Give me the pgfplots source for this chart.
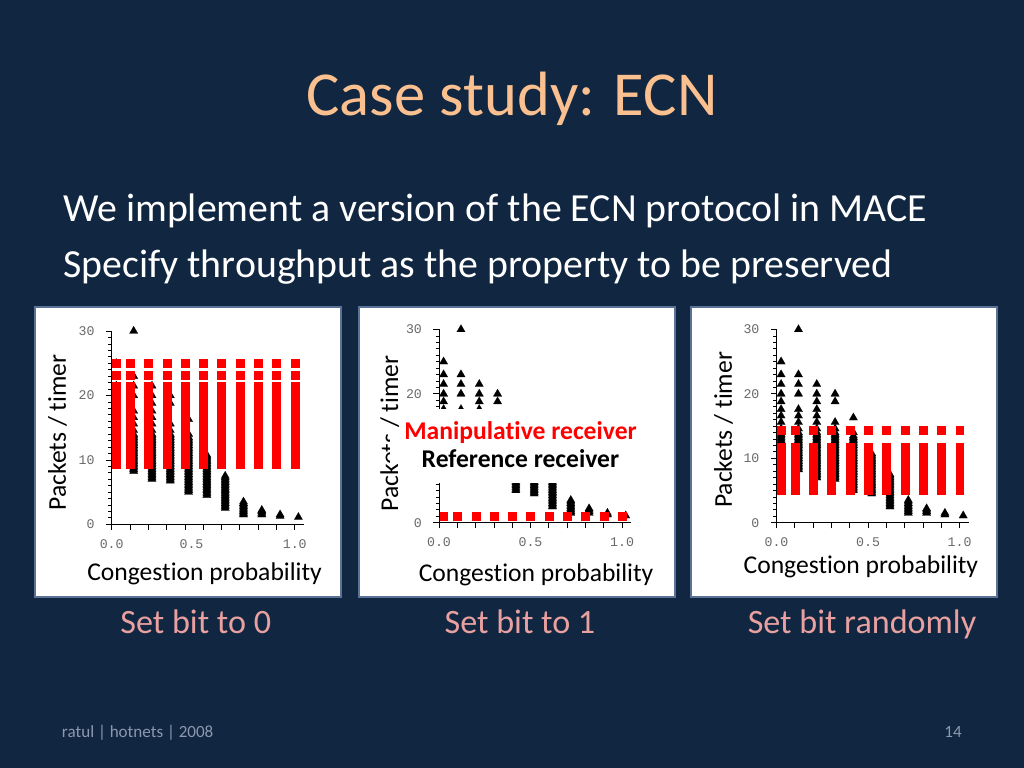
\documentclass[border=0pt]{standalone}
\usepackage{pgfplots}
\pgfplotsset{compat=1.18}
\usepackage{pgfplotstable}
\usepackage{fontspec}
\setmainfont[Ligatures={NoCommon,NoContextual},Contextuals=NoAlternate]{Carlito}
\newfontfamily\monofont{Liberation Mono}
\definecolor{bgcol}{RGB}{17,38,64}
\definecolor{titlecol}{RGB}{250,192,144}
\definecolor{pinkcol}{RGB}{232,160,160}
\definecolor{footcol}{RGB}{140,152,175}
\definecolor{bordercol}{RGB}{90,115,150}
\definecolor{tickcol}{RGB}{105,105,105}

% reference receiver (black triangles), same in all three panels
\pgfplotstableread[row sep=\\]{
x y\\
0.025 25\\0.025 23\\0.025 21.5\\0.025 20\\0.025 18.8\\0.025 17.6\\0.025 16.6\\0.025 15.6\\0.025 14.6\\
0.025 14\\0.025 13.75\\0.025 13.5\\0.025 13.25\\0.025 13\\0.025 12.75\\0.025 12.5\\0.025 12.25\\0.025 12\\0.025 11.75\\0.025 11.5\\0.025 11.25\\0.025 11\\0.025 10.75\\0.025 10.5\\0.025 10.25\\0.025 10\\0.025 9.75\\0.025 9.5\\0.025 9.25\\0.025 9\\
0.12 30\\0.12 23\\0.12 21.5\\0.12 20\\0.12 17.6\\0.12 16.6\\0.12 15.6\\0.12 14.6\\
0.12 14\\0.12 13.75\\0.12 13.5\\0.12 13.25\\0.12 13\\0.12 12.75\\0.12 12.5\\0.12 12.25\\0.12 12\\0.12 11.75\\0.12 11.5\\0.12 11.25\\0.12 11\\0.12 10.75\\0.12 10.5\\0.12 10.25\\0.12 10\\0.12 9.75\\0.12 9.5\\0.12 9.25\\0.12 9\\0.12 8.75\\0.12 8.5\\0.12 8.25\\
0.22 21.5\\0.22 20\\0.22 18.8\\0.22 17.6\\0.22 16.6\\0.22 15.6\\0.22 14.6\\
0.22 14\\0.22 13.75\\0.22 13.5\\0.22 13.25\\0.22 13\\0.22 12.75\\0.22 12.5\\0.22 12.25\\0.22 12\\0.22 11.75\\0.22 11.5\\0.22 11.25\\0.22 11\\0.22 10.75\\0.22 10.5\\0.22 10.25\\0.22 10\\0.22 9.75\\0.22 9.5\\0.22 9.25\\0.22 9\\0.22 8.75\\0.22 8.5\\0.22 8.25\\0.22 8\\0.22 7.75\\0.22 7.5\\0.22 7.25\\0.22 7\\
0.32 20\\0.32 18.8\\0.32 15.6\\0.32 14.6\\
0.32 14\\0.32 13.75\\0.32 13.5\\0.32 13.25\\0.32 13\\0.32 12.75\\0.32 12.5\\0.32 12.25\\0.32 12\\0.32 11.75\\0.32 11.5\\0.32 11.25\\0.32 11\\0.32 10.75\\0.32 10.5\\0.32 10.25\\0.32 10\\0.32 9.75\\0.32 9.5\\0.32 9.25\\0.32 9\\0.32 8.75\\0.32 8.5\\0.32 8.25\\0.32 8\\0.32 7.75\\0.32 7.5\\0.32 7.25\\0.32 7\\0.32 6.75\\
0.42 16.3\\0.42 14\\
0.42 13.5\\0.42 13.25\\0.42 13\\0.42 12.75\\0.42 12.5\\0.42 12.25\\0.42 12\\0.42 11.75\\0.42 11.5\\0.42 11.25\\0.42 11\\0.42 10.75\\0.42 10.5\\0.42 10.25\\0.42 10\\0.42 9.75\\0.42 9.5\\0.42 9.25\\0.42 9\\0.42 8.75\\0.42 8.5\\0.42 8.25\\0.42 8\\0.42 7.75\\0.42 7.5\\0.42 7.25\\0.42 7\\0.42 6.75\\0.42 6.5\\0.42 6.25\\0.42 6\\0.42 5.75\\0.42 5.5\\0.42 5.25\\0.42 5\\
0.52 10.75\\0.52 10.5\\0.52 10.25\\0.52 10\\0.52 9.75\\0.52 9.5\\0.52 9.25\\0.52 9\\0.52 8.75\\0.52 8.5\\0.52 8.25\\0.52 8\\0.52 7.75\\0.52 7.5\\0.52 7.25\\0.52 7\\0.52 6.75\\0.52 6.5\\0.52 6.25\\0.52 6\\0.52 5.75\\0.52 5.5\\0.52 5.25\\0.52 5\\0.52 4.75\\0.52 4.5\\
0.62 7.5\\0.62 7.25\\0.62 7\\0.62 6.75\\0.62 6.5\\0.62 6.25\\0.62 6\\0.62 5.75\\0.62 5.5\\0.62 5.25\\0.62 5\\0.62 4.75\\0.62 4.5\\0.62 4.25\\0.62 4\\0.62 3.75\\0.62 3.5\\0.62 3.25\\0.62 3\\0.62 2.75\\0.62 2.5\\
0.72 3.5\\0.72 3.25\\0.72 3\\0.72 2.75\\0.72 2.5\\0.72 2.25\\0.72 2\\0.72 1.75\\0.72 1.5\\
0.82 2.2\\0.82 2\\0.82 1.75\\0.82 1.5\\
0.92 1.5\\0.92 1.25\\
1.02 1.1\\
}\refdata

% manipulative receiver, set bit to 0
\pgfplotstableread[row sep=\\]{
x y\\
0.025 25\\0.025 23.2\\0.025 21.4\\0.025 20.4\\0.025 19.4\\0.025 18.4\\0.025 17.4\\0.025 16.4\\0.025 15.4\\0.025 14.4\\0.025 13.4\\0.025 12.4\\0.025 11.4\\0.025 10.4\\0.025 9.4\\
0.1 25\\0.1 23.2\\0.1 21.4\\0.1 20.4\\0.1 19.4\\0.1 18.4\\0.1 17.4\\0.1 16.4\\0.1 15.4\\0.1 14.4\\0.1 13.4\\0.1 12.4\\0.1 11.4\\0.1 10.4\\0.1 9.4\\
0.2 25\\0.2 23.2\\0.2 21.4\\0.2 20.4\\0.2 19.4\\0.2 18.4\\0.2 17.4\\0.2 16.4\\0.2 15.4\\0.2 14.4\\0.2 13.4\\0.2 12.4\\0.2 11.4\\0.2 10.4\\0.2 9.4\\
0.3 25\\0.3 23.2\\0.3 21.4\\0.3 20.4\\0.3 19.4\\0.3 18.4\\0.3 17.4\\0.3 16.4\\0.3 15.4\\0.3 14.4\\0.3 13.4\\0.3 12.4\\0.3 11.4\\0.3 10.4\\0.3 9.4\\
0.4 25\\0.4 23.2\\0.4 21.4\\0.4 20.4\\0.4 19.4\\0.4 18.4\\0.4 17.4\\0.4 16.4\\0.4 15.4\\0.4 14.4\\0.4 13.4\\0.4 12.4\\0.4 11.4\\0.4 10.4\\0.4 9.4\\
0.5 25\\0.5 23.2\\0.5 21.4\\0.5 20.4\\0.5 19.4\\0.5 18.4\\0.5 17.4\\0.5 16.4\\0.5 15.4\\0.5 14.4\\0.5 13.4\\0.5 12.4\\0.5 11.4\\0.5 10.4\\0.5 9.4\\
0.6 25\\0.6 23.2\\0.6 21.4\\0.6 20.4\\0.6 19.4\\0.6 18.4\\0.6 17.4\\0.6 16.4\\0.6 15.4\\0.6 14.4\\0.6 13.4\\0.6 12.4\\0.6 11.4\\0.6 10.4\\0.6 9.4\\
0.7 25\\0.7 23.2\\0.7 21.4\\0.7 20.4\\0.7 19.4\\0.7 18.4\\0.7 17.4\\0.7 16.4\\0.7 15.4\\0.7 14.4\\0.7 13.4\\0.7 12.4\\0.7 11.4\\0.7 10.4\\0.7 9.4\\
0.8 25\\0.8 23.2\\0.8 21.4\\0.8 20.4\\0.8 19.4\\0.8 18.4\\0.8 17.4\\0.8 16.4\\0.8 15.4\\0.8 14.4\\0.8 13.4\\0.8 12.4\\0.8 11.4\\0.8 10.4\\0.8 9.4\\
0.9 25\\0.9 23.2\\0.9 21.4\\0.9 20.4\\0.9 19.4\\0.9 18.4\\0.9 17.4\\0.9 16.4\\0.9 15.4\\0.9 14.4\\0.9 13.4\\0.9 12.4\\0.9 11.4\\0.9 10.4\\0.9 9.4\\
1.0 25\\1.0 23.2\\1.0 21.4\\1.0 20.4\\1.0 19.4\\1.0 18.4\\1.0 17.4\\1.0 16.4\\1.0 15.4\\1.0 14.4\\1.0 13.4\\1.0 12.4\\1.0 11.4\\1.0 10.4\\1.0 9.4\\
}\redA

% set bit to 1
\pgfplotstableread[row sep=\\]{
x y\\
0.025 1\\0.1 1\\0.2 1\\0.3 1\\0.4 1\\0.5 1\\0.6 1\\0.7 1\\0.8 1\\0.9 1\\1.0 1\\
}\redB

% set bit randomly
\pgfplotstableread[row sep=\\]{
x y\\
0.025 14.35\\0.025 11.7\\0.025 10.7\\0.025 9.7\\0.025 8.7\\0.025 7.7\\0.025 6.7\\0.025 5.7\\0.025 5.0\\
0.1 14.35\\0.1 11.7\\0.1 10.7\\0.1 9.7\\0.1 8.7\\0.1 7.7\\0.1 6.7\\0.1 5.7\\0.1 5.0\\
0.2 14.35\\0.2 11.7\\0.2 10.7\\0.2 9.7\\0.2 8.7\\0.2 7.7\\0.2 6.7\\0.2 5.7\\0.2 5.0\\
0.3 14.35\\0.3 11.7\\0.3 10.7\\0.3 9.7\\0.3 8.7\\0.3 7.7\\0.3 6.7\\0.3 5.7\\0.3 5.0\\
0.4 14.35\\0.4 11.7\\0.4 10.7\\0.4 9.7\\0.4 8.7\\0.4 7.7\\0.4 6.7\\0.4 5.7\\0.4 5.0\\
0.5 14.35\\0.5 11.7\\0.5 10.7\\0.5 9.7\\0.5 8.7\\0.5 7.7\\0.5 6.7\\0.5 5.7\\0.5 5.0\\
0.6 14.35\\0.6 11.7\\0.6 10.7\\0.6 9.7\\0.6 8.7\\0.6 7.7\\0.6 6.7\\0.6 5.7\\0.6 5.0\\
0.7 14.35\\0.7 11.7\\0.7 10.7\\0.7 9.7\\0.7 8.7\\0.7 7.7\\0.7 6.7\\0.7 5.7\\0.7 5.0\\
0.8 14.35\\0.8 11.7\\0.8 10.7\\0.8 9.7\\0.8 8.7\\0.8 7.7\\0.8 6.7\\0.8 5.7\\0.8 5.0\\
0.9 14.35\\0.9 11.7\\0.9 10.7\\0.9 9.7\\0.9 8.7\\0.9 7.7\\0.9 6.7\\0.9 5.7\\0.9 5.0\\
1.0 14.35\\1.0 11.7\\1.0 10.7\\1.0 9.7\\1.0 8.7\\1.0 7.7\\1.0 6.7\\1.0 5.7\\1.0 5.0\\
}\redC

\pgfplotsset{
  panel/.style={
    scale only axis, width=135.14pt, height=135.9pt,
    xmin=0, xmax=1.05, ymin=0, ymax=30,
    axis lines=left, axis line style={-, line width=0.6pt, black},
    xtick={0,0.1,0.2,0.3,0.4,0.5,0.6,0.7,0.8,0.9,1},
    xticklabels={0.0,,,,,0.5,,,,,1.0},
    ytick={0,10,20,30}, yticklabels={0,10,20,30},
    minor y tick num=9,
    tick align=outside, major tick length=4pt, minor tick length=2.4pt,
    tick style={black, line width=0.5pt},
    ticklabel style={font=\monofont\fontsize{9.3}{11}\selectfont, text=tickcol},
    xticklabel style={yshift=-3pt},
    yticklabel style={xshift=-4.5pt},
    clip=false,
    xlabel={Congest\kern0pt ion probability}, ylabel={Packets / timer},
    label style={font=\fontsize{18}{20}\selectfont, text=black},
  },
  blackpts/.style={only marks, mark=triangle*, mark size=3.4pt,
    mark options={fill=black, draw=black, line width=0.1pt}},
  redpts/.style={only marks, mark=square*, mark size=2.8pt,
    mark options={fill=red, draw=red, line width=0.1pt}},
}

\begin{document}
\begin{tikzpicture}[x=0.703125pt, y=0.703125pt]
\useasboundingbox (0,0) rectangle (1024,768);
\fill[bgcol] (0,0) rectangle (1024,768);
\coordinate (o1) at (111.7,243.7);
\coordinate (o2) at (439,245.3);
\coordinate (o3) at (776.5,245.3);

\node[anchor=base, text=titlecol, font=\fontsize{44}{50}\selectfont] at (512,652) {Case study: ECN};
\node[anchor=base west, inner sep=0pt, text=white, font=\fontsize{28}{32}\selectfont] at (63,546) {We implement a version of the ECN protocol in MACE};
\node[anchor=base west, inner sep=0pt, text=white, font=\fontsize{28}{32}\selectfont] at (63,490) {Specify throughput as the property to be preserved};

\filldraw[fill=white, draw=bordercol, line width=1.4pt] (35,171) rectangle (341,461);
\filldraw[fill=white, draw=bordercol, line width=1.4pt] (359,171) rectangle (675,461);
\filldraw[fill=white, draw=bordercol, line width=1.4pt] (691,171) rectangle (997,461);

% Panel 1: set bit to 0
\begin{axis}[panel, at={(o1)}, anchor=south west,
  xticklabels={0.0,,,,,{\hspace*{-16.5pt}0.5},,,,,1.0},
  xlabel style={at={(axis description cs:0.483,-0.293)}, anchor=base},
  ylabel style={at={(axis description cs:-0.238,0.475)}, anchor=base}]
\addplot[blackpts] table {\refdata};
\addplot[redpts] table {\redA};
\end{axis}

% Panel 2: set bit to 1
\begin{axis}[panel, at={(o2)}, anchor=south west,
  xlabel style={at={(axis description cs:0.505,-0.302)}, anchor=base},
  ylabel style={at={(axis description cs:-0.213,0.461)}, anchor=base}]
\addplot[blackpts] table {\refdata};
\addplot[redpts] table {\redB};
\end{axis}
\fill[white] (400,285) rectangle (650,359);
\fill[white] (390,304) rectangle (650,341);
\node[anchor=base, text=red, font=\bfseries\fontsize{18}{20}\selectfont] at (520.5,328.7) {Manipulat\kern0pt ive receiver};
\node[anchor=base, text=black, font=\bfseries\fontsize{18}{20}\selectfont] at (520.5,300.3) {Reference receiver};

% Panel 3: set bit randomly
\begin{axis}[panel, at={(o3)}, anchor=south west,
  xlabel style={at={(axis description cs:0.439,-0.265)}, anchor=base},
  ylabel style={at={(axis description cs:-0.232,0.48)}, anchor=base}]
\addplot[blackpts] table {\refdata};
\addplot[redpts] table {\redC};
\end{axis}

\node[anchor=base, text=pinkcol, font=\fontsize{24}{28}\selectfont] at (195.8,134) {Set bit to 0};
\node[anchor=base, text=pinkcol, font=\fontsize{24}{28}\selectfont] at (520,134) {Set bit to 1};
\node[anchor=base, text=pinkcol, font=\fontsize{24}{28}\selectfont] at (862,134) {Set bit randomly};

\node[anchor=base west, inner sep=0pt, text=footcol, font=\fontsize{12}{14}\selectfont] at (61.7,30) {ratul | hotnets | 2008};
\node[anchor=base, text=footcol, font=\fontsize{12}{14}\selectfont] at (953,30) {14};
\end{tikzpicture}
\end{document}
